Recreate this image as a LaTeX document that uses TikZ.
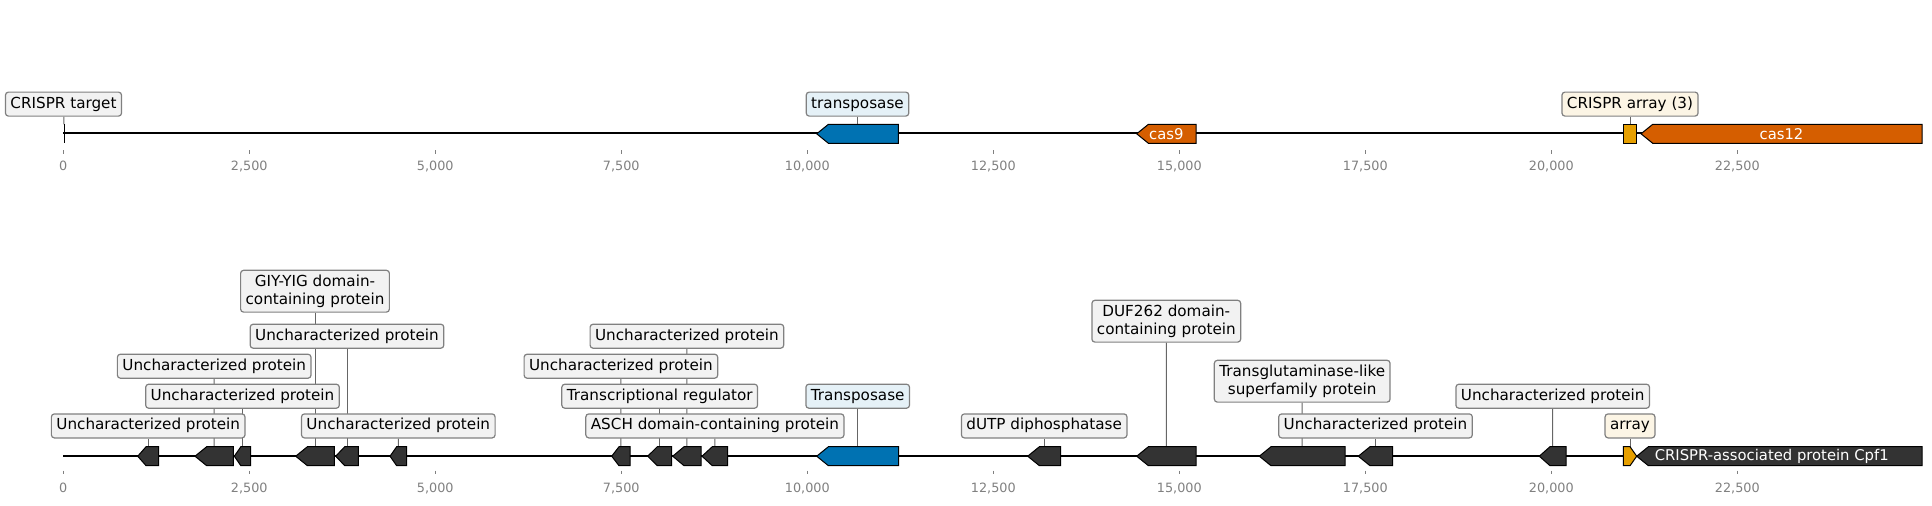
\documentclass[tikz,border=0pt]{standalone}
\usepackage{fontspec}
\setmainfont{DejaVu Sans}
\usetikzlibrary{backgrounds}

\definecolor{tpblue}{HTML}{0072B2}
\definecolor{casred}{HTML}{D55E00}
\definecolor{arrorange}{HTML}{E69F00}
\definecolor{cdsgrey}{HTML}{333333}

\newcommand{\lblfont}{\fontsize{7.6pt}{9.15pt}\selectfont}

% left pointing gene: name, tip x, end x, mid y, fill
\newcommand{\genel}[5]{%
  \pgfmathsetmacro{\gtip}{#2+min(11.7,0.4*(#3-#2))}
  \draw[gene, fill=#5] (#2,#4) -- (\gtip,#4-9.5) -- (#3,#4-9.5) -- (#3,#4+9.5) -- (\gtip,#4+9.5) -- cycle;
  \coordinate (#1) at ({(#2+#3)/2},#4-9.5);}
% right pointing gene
\newcommand{\gener}[5]{%
  \pgfmathsetmacro{\gtip}{#3-min(11.7,0.5*(#3-#2))}
  \draw[gene, fill=#5] (#2,#4-9.5) -- (\gtip,#4-9.5) -- (#3,#4) -- (\gtip,#4+9.5) -- (#2,#4+9.5) -- cycle;
  \coordinate (#1) at ({(#2+#3)/2},#4-9.5);}

\tikzset{
  gene/.style={draw=black, line width=0.5pt, line join=miter},
  lbl/.style={draw=black!50, fill=black!5, rounded corners=1.5pt, line width=0.6pt,
    inner xsep=2.5pt, inner ysep=2.2pt, font=\lblfont, text height=5.8pt, text depth=1.8pt},
  lbltwo/.style={lbl, text height=, text depth=, align=center},
  leader/.style={draw=black!60, line width=0.5pt},
  genetxt/.style={text=white, font=\fontsize{7.4pt}{9pt}\selectfont, inner sep=0pt},
  ticklbl/.style={text=gray, font=\fontsize{6.4pt}{7.7pt}\selectfont, inner sep=0pt},
  backbone/.style={line width=1.1pt}
}

\begin{document}
\begin{tikzpicture}[x=0.5pt, y=-0.5pt]
	\useasboundingbox (0,0) rectangle (1932,505);

	% axes, positions in kb
	\foreach \kb/\lab in {0/0, 2.5/{2,500}, 5/{5,000}, 7.5/{7,500}, 10/{10,000}, 12.5/{12,500}, 15/{15,000}, 17.5/{17,500}, 20/{20,000}, 22.5/{22,500}} {
		\draw [gray, line width=0.4pt] ({63.3+74.4*\kb},150) -- ++(0,3.5);
		\node at ({63.3+74.4*\kb},166) [ticklbl] {\lab};
		\draw [gray, line width=0.4pt] ({63.3+74.4*\kb},470.5) -- ++(0,3.5);
		\node at ({63.3+74.4*\kb},488) [ticklbl] {\lab};
	}
	\draw [backbone] (63.3,133.3) -- (1922,133.3);
	\draw [backbone] (63.3,455.7) -- (1922,455.7);

	% top track
	\draw [line width=0.4pt] (64,124.3) -- (64,143.3);
	\coordinate (tgt) at (64,124.3);
	\genel{tp}{816.7}{898.3}{133.8}{tpblue}
	\genel{c9}{1136.7}{1196}{133.8}{casred}
	\draw [gene, fill=arrorange] (1623.3,124.3) rectangle (1636.7,143.3);
	\coordinate (arr) at (1630,124.3);
	\genel{c12}{1641}{1922}{133.8}{casred}
	\node at (1166.3,134.3) [genetxt] (t9) {cas9};
	\node at (1781.5,134.3) [genetxt] (t12) {cas12};

	\node at (63.5,104.1) [lbl] (ltgt) {CRISPR target};
	\node at (857.5,104.1) [lbl, fill=tpblue!10] (ltp) {transposase};
	\node at (1630,104.1) [lbl, fill=arrorange!10] (larr) {CRISPR array (3)};

	% bottom track
	\genel{g1}{137.7}{158.7}{456.2}{cdsgrey}
	\genel{g2}{195}{233.3}{456.2}{cdsgrey}
	\genel{g3}{234.3}{250.7}{456.2}{cdsgrey}
	\genel{g4}{295.7}{334.3}{456.2}{cdsgrey}
	\genel{g5}{335.7}{358.3}{456.2}{cdsgrey}
	\genel{g6}{390}{406.7}{456.2}{cdsgrey}
	\genel{g7}{611.7}{630}{456.2}{cdsgrey}
	\genel{g8}{647.7}{671.7}{456.2}{cdsgrey}
	\genel{g9}{672.7}{701}{456.2}{cdsgrey}
	\genel{g10}{702}{727.7}{456.2}{cdsgrey}
	\genel{g11}{816.7}{898.7}{456.2}{tpblue}
	\genel{g12}{1027.7}{1060.7}{456.2}{cdsgrey}
	\genel{g13}{1136.7}{1196}{456.2}{cdsgrey}
	\genel{g14}{1259.3}{1345}{456.2}{cdsgrey}
	\genel{g15}{1358.3}{1392.7}{456.2}{cdsgrey}
	\genel{g16}{1539.3}{1566}{456.2}{cdsgrey}
	\gener{g17}{1623.3}{1636.7}{456.2}{arrorange}
	\genel{g18}{1636.7}{1922}{456.2}{cdsgrey}
	\node at (1771.7,456.7) [genetxt] (t18) {CRISPR-associated protein Cpf1};

	\node at (148.2,425.9) [lbl] (l1) {Uncharacterized protein\ };
	\node at (214.2,366.2) [lbl] (l2) {Uncharacterized protein\ };
	\node at (242.5,396.2) [lbl] (l3) {Uncharacterized protein\ };
	\node at (315,291.2) [lbltwo] (l4) {GIY-YIG domain-\\containing protein};
	\node at (347,336.2) [lbl] (l5) {Uncharacterized protein\ };
	\node at (398.3,425.9) [lbl] (l6) {Uncharacterized protein\ };
	\node at (620.9,366.2) [lbl] (l7) {Uncharacterized protein\ };
	\node at (659.7,396.2) [lbl] (l8) {Transcriptional regulator\ };
	\node at (686.9,336.2) [lbl] (l9) {Uncharacterized protein\ };
	\node at (714.9,425.9) [lbl] (l10) {ASCH domain-containing protein};
	\node at (857.7,396.2) [lbl, fill=tpblue!10] (l11) {Transposase\ };
	\node at (1044.2,425.9) [lbl] (l12) {dUTP diphosphatase\ };
	\node at (1166.3,321.2) [lbltwo] (l13) {DUF262 domain-\\containing protein};
	\node at (1302.2,381.2) [lbltwo] (l14) {Transglutaminase-like\\superfamily protein};
	\node at (1375.5,425.9) [lbl] (l15) {Uncharacterized protein\ };
	\node at (1552.7,396.2) [lbl] (l16) {Uncharacterized protein\ };
	\node at (1630,425.9) [lbl, fill=arrorange!10] (l17) {array};

	\begin{scope}[on background layer]
		\draw [leader] (ltgt) -- (tgt);
		\draw [leader] (ltp) -- (tp);
		\draw [leader] (larr) -- (arr);
		\foreach \i in {1,...,17}
			\draw [leader] (l\i) -- (g\i);
	\end{scope}
\end{tikzpicture}
\end{document}
